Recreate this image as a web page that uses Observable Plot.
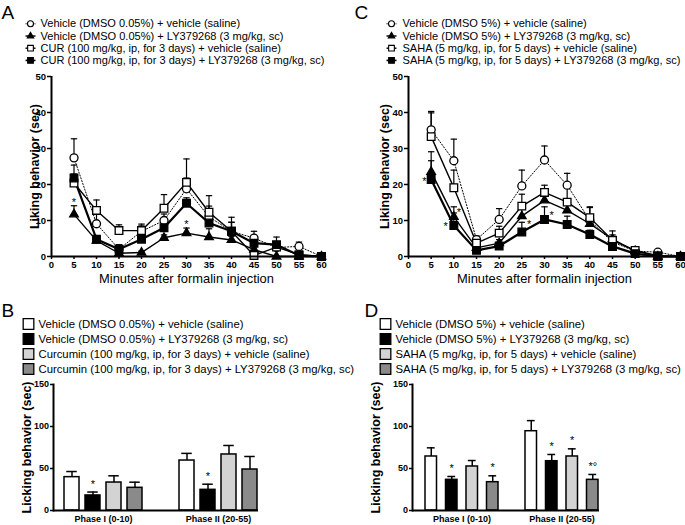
<!DOCTYPE html>
<html><head><meta charset="utf-8">
<script src="https://cdn.jsdelivr.net/npm/d3@7"></script>
<script src="https://cdn.jsdelivr.net/npm/@observablehq/plot@0.6"></script>
<style>
body{margin:0;background:#fff;}
#root{position:relative;width:685px;height:525px;overflow:hidden;background:#fff;}
.panel{position:absolute;}
</style></head><body><div id="root"></div>
<script>
// ---------- shared ----------
const minutes = [5,10,15,20,25,30,35,40,45,50,55,60];
const xTicks = [0,5,10,15,20,25,30,35,40,45,50,55,60];
const yTicksLine = [0,10,20,30,40,50];
const yTicksBar = [0,50,100,150];
const xTitle = "Minutes after formalin injection";
const yTitleLine = "Liking behavior (sec)";
const yTitleBar = "Licking behavior (sec)";
const phases = ["Phase I (0-10)", "Phase II (20-55)"];
const panelLetters = ["A", "B", "C", "D"];

// ---------- Panel A ----------
const legendA = [
  "Vehicle (DMSO 0.05%) + vehicle (saline)",
  "Vehicle (DMSO 0.05%) + LY379268 (3 mg/kg, sc)",
  "CUR (100 mg/kg, ip, for 3 days) + vehicle (saline)",
  "CUR (100 mg/kg, ip, for 3 days) + LY379268 (3 mg/kg, sc)"
];
const a_vehSal     = [27.4, 9.1, 2.0, 7.0, 10.0, 18.8, 11.0, 7.0, 5.1, 2.5, 2.8, 0];
const a_vehSal_sem = [5.3, 3.0, 1.2, 1.5, 1.8, 3.0, 3.0, 2.5, 1.9, 1.5, 1.2, 0];
const a_vehLY      = [11.7, 4.4, 0.9, 1.1, 5.2, 6.5, 5.4, 4.6, 1.9, 0, 0, 0];
const a_vehLY_sem  = [2.4, 0.8, 0.5, 0.4, 0.8, 1.4, 2.3, 1.0, 0.8, 0, 0, 0];
const a_curSal     = [20.4, 12.8, 7.2, 7.2, 13.4, 20.6, 12.3, 7.0, 0.3, 2.6, 0.5, 0];
const a_curSal_sem = [2.5, 2.9, 1.6, 1.8, 3.8, 6.5, 4.6, 3.9, 0.5, 1.0, 0.5, 0];
const a_curLY      = [21.8, 4.8, 2.0, 4.8, 8.0, 14.8, 9.3, 7.0, 3.7, 3.3, 0.3, 0];
const a_curLY_sem  = [3.6, 0.8, 1.3, 1.0, 1.3, 1.5, 2.0, 2.5, 1.5, 2.1, 0.3, 0];
const a_starMin = [5, 30];
const a_starVal = [15.8, 9.8];

// ---------- Panel C ----------
const legendC = [
  "Vehicle (DMSO 5%) + vehicle (saline)",
  "Vehicle (DMSO 5%) + LY379268 (3 mg/kg, sc)",
  "SAHA (5 mg/kg, ip, for 5 days) + vehicle (saline)",
  "SAHA (5 mg/kg, ip, for 5 days) + LY379268 (3 mg/kg, sc)"
];
const c_vehSal      = [35.2, 26.6, 4.7, 10.3, 19.6, 26.8, 19.8, 10.0, 4.0, 1.5, 1.2, 0];
const c_vehSal_sem  = [5.1, 6.0, 1.0, 3.0, 4.4, 3.9, 3.3, 3.8, 1.5, 0.5, 0.3, 0];
const c_vehLY       = [23.5, 11.0, 2.4, 3.7, 11.2, 15.6, 12.8, 9.1, 4.8, 1.5, 0, 0];
const c_vehLY_sem   = [5.6, 2.8, 0.8, 1.0, 2.4, 2.0, 1.5, 1.5, 2.3, 0.4, 0, 0];
const c_sahaSal     = [33.3, 19.1, 3.7, 6.5, 14.0, 17.8, 15.1, 10.8, 4.5, 1.7, 0.2, 0];
const c_sahaSal_sem = [6.6, 4.9, 1.2, 1.9, 3.3, 2.0, 5.0, 2.8, 1.5, 0.4, 0.2, 0];
const c_sahaLY      = [21.4, 8.6, 1.7, 2.9, 6.8, 10.3, 8.9, 6.1, 2.8, 0.8, 0, 0];
const c_sahaLY_sem  = [5.2, 3.5, 0.6, 0.8, 2.7, 3.5, 2.3, 1.2, 0.8, 0.3, 0, 0];
const c_starMin = [3.5, 11.1, 8.2, 26.6, 31.6];
const c_starVal = [21.7, 13.0, 9.1, 9.6, 12.1];

// ---------- Panel B ----------
const legendB = [
  "Vehicle (DMSO 0.05%) + vehicle (saline)",
  "Vehicle (DMSO 0.05%) + LY379268 (3 mg/kg, sc)",
  "Curcumin (100 mg/kg, ip, for 3 days) + vehicle (saline)",
  "Curcumin (100 mg/kg, ip, for 3 days) + LY379268 (3 mg/kg, sc)"
];
const b_phase1      = [39.7, 17.9, 33.3, 27.0];
const b_phase1_sem  = [6.7, 4.1, 8.0, 6.7];
const b_phase1_sig  = ["", "*", "", ""];
const b_phase2      = [59.5, 24.6, 66.7, 48.8];
const b_phase2_sem  = [8.5, 6.7, 10.7, 15.5];
const b_phase2_sig  = ["", "*", "", ""];

// ---------- Panel D ----------
const legendD = [
  "Vehicle (DMSO 5%) + vehicle (saline)",
  "Vehicle (DMSO 5%) + LY379268 (3 mg/kg, sc)",
  "SAHA (5 mg/kg, ip, for 5 days) + vehicle (saline)",
  "SAHA (5 mg/kg, ip, for 5 days) + LY379268 (3 mg/kg, sc)"
];
const d_phase1      = [64.3, 36.5, 52.4, 33.7];
const d_phase1_sem  = [10.3, 4.0, 7.1, 7.6];
const d_phase1_sig  = ["", "*", "", "*"];
const d_phase2      = [94.4, 58.7, 64.3, 36.5];
const d_phase2_sem  = [12.6, 8.0, 9.1, 6.4];
const d_phase2_sig  = ["", "*", "*", "*°"];

// ---------- styles ----------
const FONT = "Liberation Sans, Arial, Helvetica, sans-serif";
const lineStyles = [
  {symbol: "circle",   fill: "white", width: 1,   dash: "1.2,1.8", r: 4},
  {symbol: "triangle", fill: "black", width: 1.4, dash: null,      r: 3.2},
  {symbol: "square",   fill: "white", width: 1.4, dash: null,      r: 4.3},
  {symbol: "square",   fill: "black", width: 2.2, dash: null,      r: 4.3}
];
const barFills = ["#ffffff", "#000000", "#d3d3d3", "#8a8a8a"];
const hLine = {draw(ctx, size) { const w = Math.sqrt(size / Math.PI); ctx.moveTo(-w, 0); ctx.lineTo(w, 0); }};
const PLOT_STYLE = {fontFamily: FONT, background: "transparent", color: "black", overflow: "visible"};

// Arial advance widths (1/1000 em): regular text lines are given their Arial length
const ARIAL_W = {" ":278,"(":333,")":333,"%":889,"+":584,",":278,"-":333,".":278,"/":278,
  "0":556,"1":556,"2":556,"3":556,"4":556,"5":556,"6":556,"7":556,"8":556,"9":556,
  A:667,C:722,D:722,H:722,L:556,M:833,O:778,R:722,S:667,U:722,V:667,Y:667,
  a:556,b:556,c:500,d:556,e:556,f:278,g:556,h:556,i:222,j:222,k:500,l:222,m:833,n:556,o:556,p:556,r:333,s:500,t:278,u:556,v:500,y:500};
const arialWidth = (s, size) => [...s].reduce((w, ch) => w + (ARIAL_W[ch] ?? 556), 0) * size / 1000;
const stretchTexts = new Set([...legendA, ...legendB, ...legendC, ...legendD, xTitle]);

const root = document.getElementById("root");
function place(el, left, top, z) {
  el.classList.add("panel");
  el.style.left = left + "px"; el.style.top = top + "px";
  if (z) el.style.zIndex = z;
  root.appendChild(el);
  el.querySelectorAll("text").forEach(t => {
    if (!stretchTexts.has(t.textContent)) return;
    const size = parseFloat(getComputedStyle(t).fontSize) || 11;
    t.setAttribute("textLength", arialWidth(t.textContent, size).toFixed(1));
    t.setAttribute("lengthAdjust", "spacingAndGlyphs");
  });
}

function linePlot({values, sems, starMin, starVal, width, marginLeft, marginRight, yTitleDx}) {
  const rows = values.flatMap((vals, s) => minutes.map((m, j) => ({s, m, v: vals[j], e: sems[s][j]})));
  const errRows = rows.filter(d => d.e > 0);
  const stars = starMin.map((m, i) => ({m, v: starVal[i]}));
  return Plot.plot({
    width, height: 225, marginLeft, marginRight, marginTop: 10, marginBottom: 35,
    x: {domain: [0, 60]}, y: {domain: [0, 50]},
    style: PLOT_STYLE,
    marks: [
      Plot.axisX({ticks: xTicks, tickSize: 3, tickPadding: 2, fontSize: 9.5, fontWeight: "bold", strokeWidth: 1.5, label: null}),
      Plot.axisY({ticks: yTicksLine, tickSize: 4, tickPadding: 1.5, fontSize: 9.5, fontWeight: "bold", strokeWidth: 1.5, label: null}),
      ...lineStyles.map((st, s) => Plot.line(rows.filter(d => d.s === s), {x: "m", y: "v", stroke: "black", strokeWidth: st.width, strokeDasharray: st.dash || undefined})),
      Plot.ruleX(errRows, {x: "m", y1: "v", y2: d => d.v + d.e, stroke: "black", strokeWidth: 1.2}),
      Plot.dot(errRows, {x: "m", y: d => d.v + d.e, symbol: hLine, r: 3.2, stroke: "black", strokeWidth: 1.2, fill: "none"}),
      ...lineStyles.map((st, s) => Plot.dot(rows.filter(d => d.s === s), {x: "m", y: "v", symbol: st.symbol, r: st.r, fill: st.fill, stroke: "black", strokeWidth: 1.3})),
      Plot.ruleX([0], {strokeWidth: 2}),
      Plot.ruleY([0], {strokeWidth: 2}),
      Plot.text(stars, {x: "m", y: "v", text: () => "*", fontSize: 11, dy: 3, fill: "black"}),
      Plot.text([yTitleLine], {frameAnchor: "left", textAnchor: "middle", rotate: -90, dx: yTitleDx, fontSize: 12.5, fontWeight: "bold", fill: "black"}),
      Plot.text([xTitle], {frameAnchor: "bottom", textAnchor: "middle", dy: 17, lineAnchor: "top", fontSize: 12.9, fill: "black"})
    ]
  });
}

function barPlot({means, sems, sigs, width, marginLeft, marginRight, groupStep, barStep, barW, leftOffset, yTitleDx}) {
  const rows = phases.flatMap((p, pi) => [0, 1, 2, 3].map(g => ({p, g, v: means[pi][g], e: sems[pi][g], t: sigs[pi][g]})));
  const bw = 3 * barStep + barW;
  const R = width - marginLeft - marginRight;
  const pInner = 1 - bw / groupStep;
  const pOuter = (R / groupStep - 2 + pInner) / 2;
  const align = leftOffset / (2 * pOuter * groupStep);
  const byG = g => rows.filter(d => d.g === g);
  const off = g => g * barStep + barW / 2 - bw / 2;
  const capIn = barW * 0.15;
  return Plot.plot({
    width, height: 155, marginLeft, marginRight, marginTop: 14, marginBottom: 15,
    x: {domain: phases, paddingInner: pInner, paddingOuter: pOuter, align},
    y: {domain: [0, 150]},
    style: PLOT_STYLE,
    marks: [
      ...[0, 1, 2, 3].map(g => Plot.ruleX(byG(g), {x: "p", y1: "v", y2: d => d.v + d.e, dx: off(g), strokeWidth: 1.5})),
      ...[0, 1, 2, 3].map(g => Plot.tickY(byG(g), {x: "p", y: d => d.v + d.e, insetLeft: g * barStep + capIn, insetRight: bw - barW - g * barStep + capIn, strokeWidth: 1.5})),
      ...[0, 1, 2, 3].map(g => Plot.barY(byG(g), {x: "p", y: "v", fill: barFills[g], stroke: "black", strokeWidth: 1.5, insetLeft: g * barStep, insetRight: bw - barW - g * barStep})),
      ...[0, 1, 2, 3].map(g => Plot.text(byG(g).filter(d => d.t), {x: "p", y: d => d.v + d.e, text: "t", dx: off(g), dy: -8, fontSize: 11, fill: "black"})),
      Plot.axisX({tickSize: 0, tickPadding: 5, fontSize: 9, fontWeight: "bold", label: null}),
      Plot.axisY({ticks: yTicksBar, tickSize: 3, tickPadding: 1.5, fontSize: 9, fontWeight: "bold", strokeWidth: 1.5, label: null}),
      Plot.frame({anchor: "left", strokeWidth: 2}),
      Plot.ruleY([0], {strokeWidth: 2}),
      Plot.text([yTitleBar], {frameAnchor: "left", textAnchor: "middle", rotate: -90, dx: yTitleDx, fontSize: 12.5, fontWeight: "bold", fill: "black"})
    ]
  });
}

// legends and panel letters, drawn by Plot on a full-size overlay
function lineLegendMarks(names, markerX, textX, top, gap) {
  return names.flatMap((name, i) => {
    const st = lineStyles[i], y = top + i * gap;
    return [
      Plot.dot([name], {frameAnchor: "top-left", dx: markerX, dy: y, symbol: hLine, r: 5, stroke: "black", strokeWidth: Math.min(st.width, 1.6), strokeDasharray: st.dash || undefined}),
      Plot.dot([name], {frameAnchor: "top-left", dx: markerX, dy: y, symbol: st.symbol, r: st.r * 0.75, fill: st.fill, stroke: "black", strokeWidth: 1.1}),
      Plot.text([name], {frameAnchor: "top-left", dx: textX, dy: y, textAnchor: "start", lineAnchor: "middle", fontSize: 11, fill: "black"})
    ];
  });
}
function barLegendMarks(names, boxX, textX, top, gap) {
  return names.flatMap((name, i) => {
    const y = top + i * gap;
    return [
      Plot.dot([name], {frameAnchor: "top-left", dx: boxX + 6, dy: y, symbol: "square", r: 6, fill: barFills[i], stroke: "black", strokeWidth: 1.3}),
      Plot.text([name], {frameAnchor: "top-left", dx: textX, dy: y, textAnchor: "start", lineAnchor: "middle", fontSize: 11.3, fill: "black"})
    ];
  });
}
function letterMark(t, x, y) {
  return Plot.text([t], {frameAnchor: "top-left", dx: x, dy: y, textAnchor: "start", lineAnchor: "bottom", fontSize: 19, fill: "black"});
}

// ---------- build ----------
place(linePlot({
  values: [a_vehSal, a_vehLY, a_curSal, a_curLY],
  sems: [a_vehSal_sem, a_vehLY_sem, a_curSal_sem, a_curLY_sem],
  starMin: a_starMin, starVal: a_starVal,
  width: 335, marginLeft: 51, marginRight: 14, yTitleDx: -17
}), 0, 66);

place(linePlot({
  values: [c_vehSal, c_vehLY, c_sahaSal, c_sahaLY],
  sems: [c_vehSal_sem, c_vehLY_sem, c_sahaSal_sem, c_sahaLY_sem],
  starMin: c_starMin, starVal: c_starVal,
  width: 345, marginLeft: 68, marginRight: 5, yTitleDx: -24
}), 340, 66);

place(barPlot({
  means: [b_phase1, b_phase2], sems: [b_phase1_sem, b_phase2_sem], sigs: [b_phase1_sig, b_phase2_sig],
  width: 340, marginLeft: 53, marginRight: 82, groupStep: 115.5, barStep: 21, barW: 15, leftOffset: 10.5, yTitleDx: -27
}), 0, 370);

place(barPlot({
  means: [d_phase1, d_phase2], sems: [d_phase1_sem, d_phase2_sem], sigs: [d_phase1_sig, d_phase2_sig],
  width: 345, marginLeft: 72, marginRight: 86, groupStep: 100.7, barStep: 20.5, barW: 12.3, leftOffset: 12.1, yTitleDx: -37
}), 340, 370);

place(Plot.plot({
  width: 685, height: 525, margin: 0,
  style: PLOT_STYLE,
  marks: [
    letterMark(panelLetters[0], 1, 18),
    letterMark(panelLetters[1], 1, 316),
    letterMark(panelLetters[2], 354, 18),
    letterMark(panelLetters[3], 364, 316),
    ...lineLegendMarks(legendA, 30, 40, 23.3, 12.2),
    ...lineLegendMarks(legendC, 391, 402, 23.3, 12.2),
    ...barLegendMarks(legendB, 22, 38, 323.5, 15),
    ...barLegendMarks(legendD, 379, 395, 323.5, 15)
  ]
}), 0, 0, 5);
</script>
</body></html>
